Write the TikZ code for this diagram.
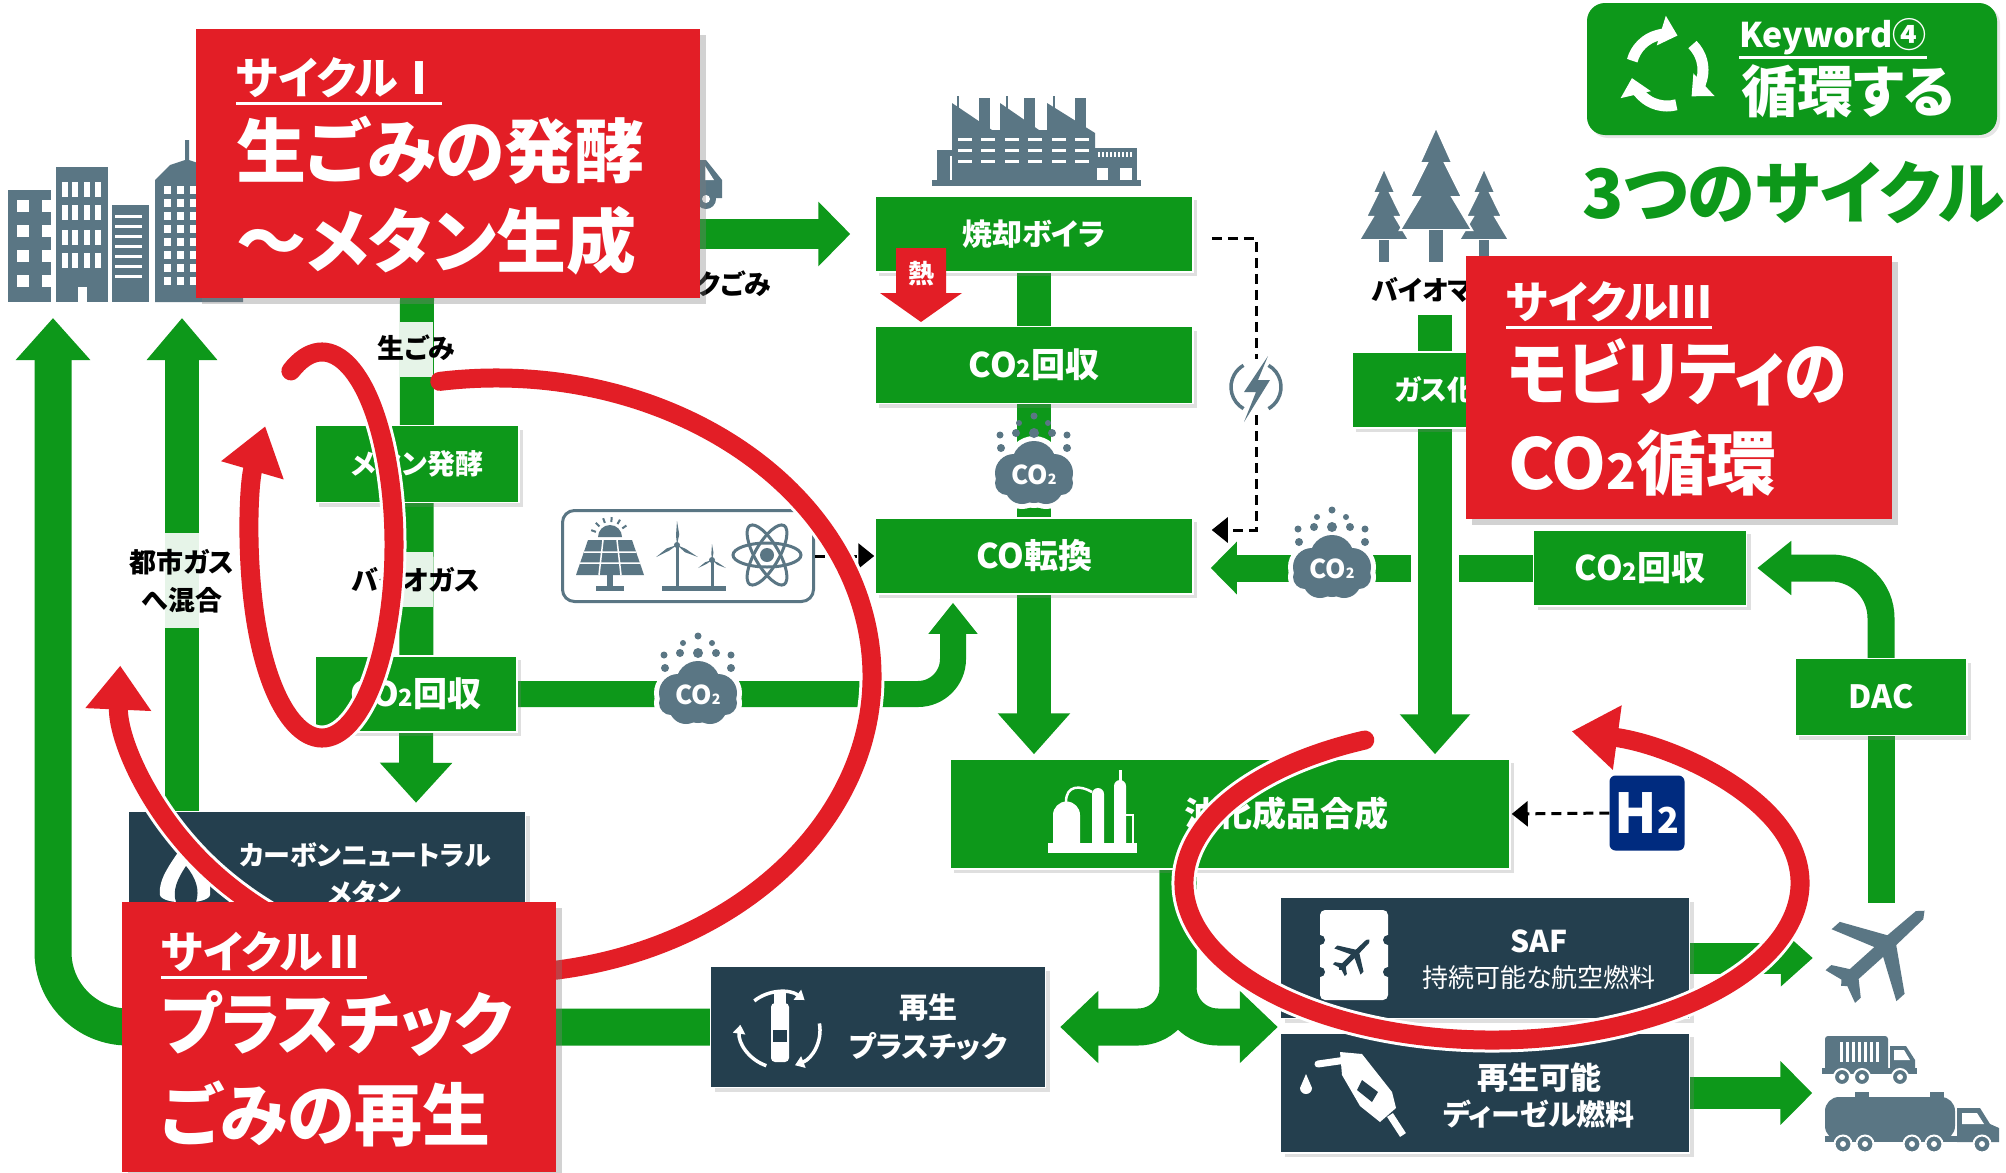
\documentclass[tikz,border=0pt]{standalone}
\usepackage{fontspec}
\setmainfont{Noto Sans CJK JP}[RawFeature=+palt]
\usepackage{graphicx}
\usepackage{tikz}
\usetikzlibrary{arrows.meta, positioning, shadows, backgrounds, calc}
\definecolor{flowgreen}{RGB}{13,152,26}
\definecolor{cyclered}{RGB}{227,30,38}
\definecolor{fuelnavy}{RGB}{36,63,78}
\definecolor{icongray}{RGB}{90,118,132}
\definecolor{labelpale}{RGB}{230,244,232}
\definecolor{hydroblue}{RGB}{0,43,127}

% sizes are given in picture units (1 unit = 1pt)
\newcommand{\fs}[2]{\fontsize{#1}{#2}\selectfont}
\newcommand{\cotwo}{CO\scalebox{0.7}{2}}
\newcommand{\undertitle}[2]{\vtop{\hbox{#2}\kern#1\hrule height 3pt}}

% CO2 cloud: #1 centre, #2 node name
\newcommand{\cloudicon}[2]{%
  \begin{scope}[shift={(#1)}]
    \foreach \cx/\cy/\r in {0/-10/22, -20/0/19, 20/0/19, -12/14/17, 12/14/17, 0/12/18, -27/10/12, 27/10/12}
      \fill[white] (\cx,\cy) circle ({\r+5});
    \foreach \cx/\cy/\r in {0/-10/22, -20/0/19, 20/0/19, -12/14/17, 12/14/17, 0/12/18, -27/10/12, 27/10/12}
      \fill[icongray] (\cx,\cy) circle (\r);
    \foreach \dx/\dy/\dr in {0/-57/3.5, -15/-50/3, 14/-50/3, -34/-38/3.5, -18/-40/4, 0/-40/5, 18/-40/4, 33/-38/3.5, -33/-25/4, 33/-25/4}
      \fill[icongray] (\dx,\dy) circle (\dr);
    \node[text=white, font=\bfseries\fs{26}{26}, inner sep=0] (#2) at (0,2) {CO\scalebox{0.55}{2}};
  \end{scope}}

\begin{document}
\begin{tikzpicture}[x=1pt, y=-1pt,
    procbox/.style={draw=white, line width=1.5pt, fill=flowgreen, text=white, inner sep=0,
      drop shadow={shadow xshift=4pt, shadow yshift=-4pt, opacity=0.25}},
    fuelbox/.style={procbox, fill=fuelnavy},
    cyclebox/.style={fill=cyclered, inner sep=0, drop shadow={shadow xshift=6pt, shadow yshift=-6pt, opacity=0.35}},
    cycletext/.style={text=white, font=\bfseries, inner sep=0, anchor=base west},
    flowlabel/.style={font=\bfseries\fs{27}{38}, align=center, inner sep=0},
    flow/.style={draw=flowgreen, line width=34pt},
    cycleloop/.style={draw=cyclered, line width=19pt, line cap=round, preaction={draw=white, line width=25pt}},
    feedline/.style={draw=black, line width=3pt, dash pattern=on 10pt off 6pt},
    jetshape/.pic={\path[pic actions] (52,0) -- (46,-5) -- (12,-6) -- (-12,-44) -- (-22,-44) -- (-4,-6) -- (-34,-6) -- (-44,-20) -- (-51,-20) -- (-46,-4) -- (-50,0) -- (-46,4) -- (-51,20) -- (-44,20) -- (-34,6) -- (-4,6) -- (-22,44) -- (-12,44) -- (12,6) -- (46,5) -- cycle;}
  ]
  \useasboundingbox (0,0) rectangle (2006,1173);

  % City buildings
  \fill[icongray] (8,190) rectangle (51,302);
  \fill[icongray] (56,167) rectangle (108,302);
  \fill[icongray] (112,205) rectangle (149,302);
  \fill[icongray] (155,302) -- (155,180) -- (170,165) -- (185,160) -- (185,140) -- (189,140) -- (189,160) -- (204,165) -- (215,180) -- (215,290) -- (243,290) -- (243,302) -- cycle;
  \foreach \wy in {200,225,250,275} {
    \fill[white] (17,\wy) rectangle (29,\wy+12);
    \fill[white] (42,\wy) rectangle (51,\wy+12);
  }
  \foreach \wx in {62,72,84,95} \foreach \wy in {182,205,230,253} \fill[white] (\wx,\wy) rectangle (\wx+6,\wy+15);
  \fill[white] (78,287) rectangle (87,302);
  \foreach \wy in {215,225,...,275} \fill[white] (115,\wy) rectangle (142,\wy+3);
  \foreach \wx in {164,177,190,203} \foreach \wy in {186,199,...,277} \fill[white] (\wx,\wy) rectangle (\wx+7,\wy+8);

  % Collection truck (mostly behind the cycle I panel)
  \fill[icongray] (640,160) -- (706,160) -- (722,180) -- (722,198) -- (640,198) -- cycle;
  \fill[white] (705,166) -- (714,180) -- (705,180) -- cycle;
  \fill[icongray] (706,199) circle (10);
  \fill[white] (706,199) circle (4);
  \node[flowlabel, anchor=east] (plasticwaste) at (771,284) {プラスチックごみ};

  % Incineration plant
  \fill[icongray] (932,180) rectangle (1141,186);
  \fill[icongray] (952,182) -- (952,103) -- (992,130) -- (1000,130) -- (1000,103) -- (1039,130) -- (1047,130) -- (1047,103) -- (1095,133) -- (1095,182) -- cycle;
  \foreach \cx in {979,1024,1075} \fill[icongray] (\cx,98) rectangle (\cx+11,135);
  \foreach \ax in {958,1007,1054} \draw[icongray, line width=1.5] (\ax,96) -- (\ax,110);
  \fill[icongray] (1095,148) rectangle (1137,182);
  \foreach \sx in {1098,1102,...,1132} \fill[white] (\sx,152) rectangle (\sx+2,157);
  \fill[white] (1097,168) rectangle (1108,180);
  \fill[white] (1120,168) rectangle (1132,180);
  \fill[icongray] (937,152) rectangle (950,182);
  \fill[icongray] (937,150) rectangle (955,156);
  \foreach \wx in {958,981,1005,1028,1052,1075} \foreach \wy in {138,149,160} \fill[white] (\wx,\wy) rectangle (\wx+14,\wy+3);

  % Forest
  \foreach \tx/\ty/\tw/\th in {1384/168/25/72, 1484/168/25/72, 1436/127/36/103} {
    \fill[icongray, draw=white, line width=2] (\tx,\ty) -- ({\tx+0.45*\tw},{\ty+0.35*\th}) -- ({\tx+0.25*\tw},{\ty+0.35*\th}) -- ({\tx+0.72*\tw},{\ty+0.68*\th}) -- ({\tx+0.45*\tw},{\ty+0.68*\th}) -- ({\tx+\tw},{\ty+\th}) -- ({\tx-\tw},{\ty+\th}) -- ({\tx-0.45*\tw},{\ty+0.68*\th}) -- ({\tx-0.72*\tw},{\ty+0.68*\th}) -- ({\tx-0.25*\tw},{\ty+0.35*\th}) -- ({\tx-0.45*\tw},{\ty+0.35*\th}) -- cycle;
    \fill[icongray] ({\tx-0.2*\tw},{\ty+\th}) rectangle ({\tx+0.2*\tw},262);
  }
  \node[flowlabel] (biomass) at (1435,290) {バイオマス};

  % Process blocks
  \node[procbox, font=\bfseries\fs{30}{30}, minimum width=318, minimum height=76] (boiler) at (1034,234) {焼却ボイラ};
  \node[procbox, font=\bfseries\fs{34}{34}, minimum width=318, minimum height=77] (capup) at (1034,365) {\cotwo 回収};
  \node[procbox, font=\bfseries\fs{34}{34}, minimum width=318, minimum height=76] (coconv) at (1034,556) {CO転換};
  \node[procbox, font=\bfseries\fs{28}{28}, minimum width=204, minimum height=77] (methane) at (417,464) {メタン発酵};
  \node[procbox, font=\bfseries\fs{34}{34}, minimum width=202, minimum height=76] (capleft) at (416,694) {\cotwo 回収};
  \node[procbox, font=\bfseries\fs{28}{28}, minimum width=166, minimum height=76] (gasify) at (1435,390) {ガス化};
  \node[procbox, font=\bfseries\fs{34}{34}, minimum width=213, minimum height=76] (capright) at (1640,568) {\cotwo 回収};
  \node[procbox, font=\bfseries\fs{32}{32}, minimum width=172, minimum height=77] (dac) at (1881,697) {DAC};
  \node[procbox, minimum width=560, minimum height=110] (synth) at (1230,814) {};
  \node[text=white, font=\bfseries\fs{34}{34}, inner sep=0] (synthtext) at (1286,814) {油化成品合成};

  % heat from the boiler
  \fill[cyclered] (896,248) -- (946,248) -- (946,293) -- (962,293) -- (921,322) -- (880,293) -- (896,293) -- cycle;
  \node[text=white, font=\bfseries\fs{26}{26}, inner sep=0] (heat) at (921,274) {熱};

  % refinery icon
  \fill[white] (1048,843) rectangle (1137,853);
  \fill[white] (1053,843) -- (1053,815) arc[start angle=180, end angle=360, radius=13.5] -- (1080,843) -- cycle;
  \fill[white] (1092,843) -- (1092,794) arc[start angle=180, end angle=360, radius=6] -- (1104,843) -- cycle;
  \fill[white] (1114,843) -- (1114,786) arc[start angle=180, end angle=360, radius=6] -- (1126,843) -- cycle;
  \draw[white, line width=3] (1120,781) -- (1120,770);
  \draw[white, line width=2.5] (1066,802) .. controls (1066,785) and (1080,785) .. (1092,792);
  \draw[white, line width=2.5] (1126,815) -- (1133,815) -- (1133,843);

  % Products
  \node[fuelbox, minimum width=397, minimum height=129] (neutral) at (327,876) {};
  \node[text=white, align=center, font=\bfseries\fs{27}{38}, inner sep=0] (neutraltext) at (365,874) {カーボンニュートラル\\メタン};
  \fill[white] (185,842) .. controls (200,860) and (212,875) .. (210,895) .. controls (208,905) and (162,905) .. (160,895) .. controls (158,878) and (172,862) .. (185,842) -- cycle;
  \fill[fuelnavy] (186,866) .. controls (196,878) and (200,890) .. (196,902) -- (176,902) .. controls (172,890) and (178,878) .. (186,866) -- cycle;

  \node[fuelbox, minimum width=335, minimum height=121] (replastic) at (878,1027) {};
  \node[text=white, align=center, font=\bfseries\fs{29}{39}, inner sep=0] (replastictext) at (928,1027) {再生\\プラスチック};
  \coordinate (bottlehub) at (780,1030);
  \foreach \a in {-90,30,150}
    \draw[white, line width=3.5, -{Triangle[width=12pt,length=9pt]}] ([shift={(\a-40:40 and 38)}]bottlehub) arc[start angle=\a-40, end angle=\a+38, x radius=40, y radius=38];
  \fill[white, rounded corners=4] (771,1003) rectangle (789,1062);
  \fill[white] (774,992) rectangle (786,1004);
  \fill[fuelnavy] (773,1030) rectangle (787,1042);

  \node[fuelbox, minimum width=409, minimum height=121] (saf) at (1485,958) {};
  \node[text=white, align=center, font=\fs{26}{35}, inner sep=0] (saftext) at (1539,960) {{\bfseries\fs{30}{35}SAF}\\持続可能な航空燃料};
  \fill[white, rounded corners=5] (1320,910) rectangle (1388,1000);
  \foreach \ry in {940,972} {
    \fill[fuelnavy] (1320,\ry) circle (5);
    \fill[fuelnavy] (1388,\ry) circle (5);
  }
  \pic[fill=fuelnavy, rotate=45, scale=0.42] at (1354,955) {jetshape};

  \node[fuelbox, minimum width=409, minimum height=120] (diesel) at (1485,1093) {};
  \node[text=white, align=center, font=\bfseries\fs{29}{36}, inner sep=0] (dieseltext) at (1539,1095) {{\fs{31}{36}再生可能}\\ディーゼル燃料};
  \fill[white] (1306,1074) -- (1300,1088) arc[start angle=180, end angle=0, radius=6] -- cycle;
  \draw[white, line width=7, line cap=round] (1318,1064) -- (1346,1060);
  \fill[white] (1340,1052) -- (1362,1054) -- (1392,1092) -- (1396,1108) -- (1380,1122) -- (1360,1106) -- (1342,1075) -- cycle;
  \fill[fuelnavy] (1362,1080) -- (1378,1092) -- (1372,1102) -- (1357,1090) -- cycle;
  \draw[white, line width=7] (1390,1115) -- (1403,1135);

  \node[fill=hydroblue, rounded corners=6, minimum size=75, text=white, font=\bfseries\fs{55}{55}, inner sep=0] (hydrogen) at (1647,813) {H\scalebox{0.65}{2}};

  % Renewable power
  \node[draw=icongray, line width=3pt, rounded corners=12, minimum width=251, minimum height=91, fill=white] (renew) at (688,556) {};
  \fill[icongray] (598,537) arc[start angle=180, end angle=360, radius=12] -- cycle;
  \foreach \a in {200,225,...,340} \draw[icongray, line width=2] ([shift={(\a:15)}]610,537) -- ([shift={(\a:20)}]610,537);
  \fill[icongray] (588,540) -- (632,540) -- (644,575) -- (576,575) -- cycle;
  \draw[white, line width=1.5] (584,552) -- (636,552) (580,563) -- (640,563) (603,540) -- (599,575) (617,540) -- (621,575);
  \fill[icongray] (607,575) rectangle (613,588);
  \fill[icongray] (596,586) rectangle (624,591);
  \foreach \hx/\hy/\bl in {677/545/24, 712/560/16} {
    \draw[icongray, line width=3] (\hx,\hy) -- (\hx,588);
    \foreach \a in {-90,30,150}
      \fill[icongray] (\hx,\hy) -- ([shift={(\a+12:\bl*0.45)}]\hx,\hy) -- ([shift={(\a:\bl)}]\hx,\hy) -- ([shift={(\a-6:\bl*0.4)}]\hx,\hy) -- cycle;
    \fill[icongray] (\hx,\hy) circle (3);
  }
  \fill[icongray] (662,586) rectangle (726,591);
  \foreach \r in {0,60,120} \draw[icongray, line width=3, rotate around={\r:(767,555)}] (767,555) ellipse [x radius=34, y radius=12];
  \fill[icongray] (767,555) circle (7);

  % CO2 clouds
  \cloudicon{1034,473}{cloudup}
  \cloudicon{1332,567}{cloudright}
  \cloudicon{698,693}{cloudleft}

  % electricity
  \node[circle, fill=white, minimum size=56, inner sep=0] (bolt) at (1256,387) {};
  \draw[icongray, line width=3.5] ([shift={(120:25)}]1256,387) arc[start angle=120, end angle=240, radius=25];
  \draw[icongray, line width=3.5] ([shift={(-60:25)}]1256,387) arc[start angle=-60, end angle=60, radius=25];
  \fill[icongray] (1268,356) -- (1244,392) -- (1256,392) -- (1244,422) -- (1270,380) -- (1258,380) -- cycle;

  % Vehicles
  \node[minimum width=114, minimum height=92, inner sep=0] (airliner) at (1882,949) {};
  \pic[fill=icongray, rotate=42, scale=1.1] at (1882,949) {jetshape};
  \node[minimum width=175, minimum height=118, inner sep=0] (fleet) at (1912,1091) {};
  \fill[icongray, rounded corners=3] (1825,1036) rectangle (1888,1071);
  \foreach \sx in {1840,1846,...,1876} \fill[white] (\sx,1042) rectangle (\sx+2.5,1062);
  \fill[icongray] (1890,1046) -- (1906,1046) -- (1915,1060) -- (1915,1071) -- (1890,1071) -- cycle;
  \fill[white] (1894,1050) -- (1904,1050) -- (1910,1060) -- (1894,1060) -- cycle;
  \fill[icongray] (1822,1068) rectangle (1917,1074);
  \foreach \wx in {1842,1862,1900} {
    \fill[icongray, draw=white, line width=2] (\wx,1077) circle (8);
    \fill[white] (\wx,1077) circle (3);
  }
  \fill[icongray, rounded corners=14] (1825,1097) rectangle (1955,1140);
  \foreach \hx in {1855,1930} \fill[icongray] (\hx,1092) rectangle (\hx+14,1098);
  \fill[icongray] (1957,1108) -- (1980,1108) -- (1990,1124) -- (1999,1128) -- (1999,1142) -- (1957,1142) -- cycle;
  \fill[white] (1962,1113) -- (1977,1113) -- (1984,1124) -- (1962,1124) -- cycle;
  \fill[icongray] (1825,1136) rectangle (1999,1142);
  \foreach \wx in {1843,1865,1912,1934,1982} {
    \fill[icongray, draw=white, line width=2] (\wx,1144) circle (8.5);
    \fill[white] (\wx,1144) circle (3);
  }

  % Labels on the pipes
  \fill[labelpale] (399,322) rectangle (433,377);
  \fill[labelpale] (399,552) rectangle (433,607);
  \fill[labelpale] (165,533) rectangle (199,628);
  \node[flowlabel] (rawwaste) at (416,348) {生ごみ};
  \node[flowlabel] (biogas) at (416,580) {バイオガス};
  \node[flowlabel] (citygas) at (182,581) {都市ガス\\へ混合};

  % Dashed supply lines
  \draw[feedline] ($(boiler.east)+(18,4)$) -| (bolt.north);
  \draw[feedline, -{Triangle[width=25pt,length=16pt]}] (bolt.south) |- ($(coconv.east)+(18,-26)$);
  \draw[feedline, -{Triangle[width=25pt,length=16pt]}] (renew.east) -- (coconv.west);
  \draw[feedline, -{Triangle[width=25pt,length=16pt]}, shorten >=1pt] (hydrogen.west) -- (synth.east);

  % The three cycles
  \coordinate (loopone) at (322,545);
  \coordinate (looptwo) at (496,676);
  \coordinate (loopthree) at (1492,883);
  \draw[cycleloop, -{Triangle[width=62pt,length=46pt]}] ([shift={(-115.6:72 and 193)}]loopone) arc[start angle=-115.6, end angle=218, x radius=72, y radius=193];
  \draw[cycleloop, -{Triangle[width=63pt,length=44pt]}] ([shift={(-98.6:376 and 298)}]looptwo) arc[start angle=-98.6, end angle=182, x radius=376, y radius=298];
  \draw[cycleloop, -{Triangle[width=62pt,length=46pt]}] ([shift={(245.6:308 and 157)}]loopthree) arc[start angle=245.6, end angle=-75, x radius=308, y radius=157];

  % Cycle panels
  \node[cyclebox, minimum width=504, minimum height=269] (cyc1box) at (448,163.5) {};
  \node[cycletext, font=\bfseries\fs{44}{44}] (cyc1head) at (236,94) {\undertitle{5pt}{サイクルⅠ}};
  \node[cycletext, font=\bfseries\fs{70}{70}] (cyc1line1) at (236,177) {生ごみの発酵};
  \node[cycletext, font=\bfseries\fs{70}{70}] (cyc1line2) at (236,267) {〜メタン生成};

  \node[cyclebox, minimum width=434, minimum height=270] (cyc2box) at (339,1037) {};
  \node[cycletext, font=\bfseries\fs{44}{44}] (cyc2head) at (161,968) {\undertitle{5pt}{サイクルⅡ}};
  \node[cycletext, font=\bfseries\fs{68}{68}] (cyc2line1) at (161,1049) {\scalebox{0.95}[1]{プラスチック}};
  \node[cycletext, font=\bfseries\fs{68}{68}] (cyc2line2) at (161,1140) {ごみの再生};

  \node[cyclebox, minimum width=426, minimum height=263] (cyc3box) at (1679,387.5) {};
  \node[cycletext, font=\bfseries\fs{44}{44}] (cyc3head) at (1506,318) {\undertitle{5pt}{サイクルⅢ}};
  \node[cycletext, font=\bfseries\fs{70}{70}] (cyc3line1) at (1508,399) {\scalebox{0.9}[1]{モビリティの}};
  \node[cycletext, font=\bfseries\fs{70}{70}] (cyc3line2) at (1508,489) {\cotwo 循環};

  % Keyword badge
  \node[fill=flowgreen, rounded corners=18, minimum width=410, minimum height=132, inner sep=0,
    drop shadow={shadow xshift=3pt, shadow yshift=-3pt, opacity=0.2}] (kwbox) at (1792,69) {};
  \coordinate (kwhub) at (1667,70);
  \foreach \a in {195,315,75}
    \draw[white, line width=11pt, -{Triangle[width=30pt,length=17pt]}] ([shift={(\a:36)}]kwhub) arc[start angle=\a, end angle=\a+92, radius=36];
  \node[cycletext, font=\bfseries\fs{34}{34}] (kwhead) at (1739,47) {\undertitle{2pt}{Keyword④}};
  \node[cycletext, font=\bfseries\fs{56}{56}] (kwmain) at (1741,112) {循環する};
  \node[cycletext, text=flowgreen, font=\bfseries\fs{68}{68}] (threecycles) at (1582,218) {3つのサイクル};

  % Green flows, behind everything
  \begin{pgfonlayer}{background}
    \fill[white] (0,0) rectangle (2006,1173);
    \draw[flow, -{Triangle[width=70pt,length=40pt]}, shorten >=8pt] (cyc1box.south -| methane) -- (capleft.south |- neutral.north);
    \draw[flow, line width=30pt, -{Triangle[width=63pt,length=32pt]}, shorten >=24pt] (cyc1box.center |- boiler.west) -- (boiler.west);
    \draw[flow] (boiler.south) -- (capup.north);
    \draw[flow] (capup.south) -- (coconv.north);
    \draw[flow, -{Triangle[width=70pt,length=41pt]}, shorten >=4pt] (coconv.south) -- (coconv.south |- synth.north);
    \coordinate (coinlet) at ($(coconv.south)+(-81,0)$);
    \draw[flow, line width=26pt, rounded corners=35pt, -{Triangle[width=47pt,length=31pt]}, shorten >=8pt] (capleft.east) -| (coinlet);
    \draw[flow, line width=27pt, -{Triangle[width=51pt,length=26pt]}, shorten >=17pt] (capright.west) -- (capright.west -| coconv.east);
    \draw[flow, preaction={draw=white, line width=48pt}, -{Triangle[width=68pt,length=40pt]}, shorten >=4pt] ($(biomass.south)+(0,12)$) -- (biomass.south |- synth.north);
    \draw[flow, line width=27pt] (dac.south |- airliner.north) -- (dac.south);
    \draw[flow, line width=27pt, rounded corners=50pt, -{Triangle[width=52pt,length=34pt]}, shorten >=10pt] (dac.north) |- (capright.east);
    \coordinate (splitroot) at ($(synth.south)+(-52,0)$);
    \draw[flow, line width=37pt, rounded corners=40pt, -{Triangle[width=70pt,length=38pt]}, shorten >=14pt] (splitroot) |- (replastic.east);
    \draw[flow, line width=37pt, rounded corners=40pt, -{Triangle[width=70pt,length=38pt]}, shorten >=2pt] (splitroot) |- (replastic.east -| saf.west);
    \draw[flow, line width=31pt, -{Triangle[width=55pt,length=32pt]}, shorten >=12pt] (saf.east) -- (saf.east -| airliner.west);
    \draw[flow, line width=32pt, -{Triangle[width=62pt,length=32pt]}, shorten >=12pt] (diesel.east) -- (diesel.east -| fleet.west);
    \coordinate (cityin) at (53,318);
    \coordinate (gasin) at (182,318);
    \draw[flow, line width=37pt, rounded corners=75pt, -{Triangle[width=72pt,length=42pt]}] (replastic.west) -| (cityin);
    \draw[flow, -{Triangle[width=68pt,length=42pt]}] (neutral.north -| gasin) -- (gasin);
  \end{pgfonlayer}
\end{tikzpicture}
\end{document}
